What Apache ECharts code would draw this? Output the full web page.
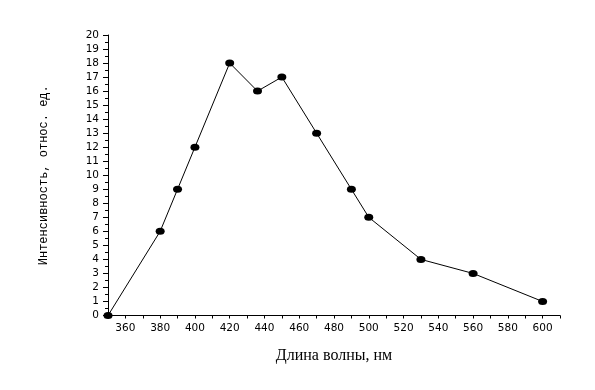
<!DOCTYPE html>
<html><head><meta charset="utf-8">
<script src="https://cdn.jsdelivr.net/npm/echarts@6/dist/echarts.min.js"></script>
<style>html,body{margin:0;padding:0;background:#fff}#c{width:595px;height:390px}</style>
</head><body><div id="c"></div>
<script>
const wavelengths = [350, 380, 390, 400, 420, 436, 450, 470, 490, 500, 530, 560, 600];
const intensity   = [0, 6, 9, 12, 18, 16, 17, 13, 9, 7, 4, 3, 1];
const xTitle = 'Длина волны, нм';
const yTitle = 'Интенсивность, относ. ед.';

const chart = echarts.init(document.getElementById('c'), null, {renderer: 'canvas'});
const labelFont = {color: '#000', fontFamily: 'DejaVu Sans, Verdana, sans-serif', fontSize: 10.5};
chart.setOption({
  animation: false,
  grid: {left: 108, right: 35, top: 35, bottom: 74.5},
  xAxis: {
    type: 'value', min: 350, max: 610, interval: 10,
    axisLine: {show: true, lineStyle: {color: '#000', width: 1}},
    axisTick: {show: true, length: 3, lineStyle: {color: '#000'}},
    splitLine: {show: false},
    axisLabel: Object.assign({}, labelFont, {margin: 7,
      formatter: v => (v % 20 === 0 && v >= 360 && v <= 600) ? String(v) : ''}),
    name: xTitle, nameLocation: 'middle', nameGap: 32,
    nameTextStyle: {color: '#000', fontFamily: 'Liberation Serif, Times New Roman, serif', fontSize: 16}
  },
  yAxis: {
    type: 'value', min: 0, max: 20, interval: 1,
    axisLine: {show: true, lineStyle: {color: '#000', width: 1}},
    axisTick: {show: true, length: 5, lineStyle: {color: '#000'}},
    minorTick: {show: true, splitNumber: 2, length: 3, lineStyle: {color: '#000'}},
    splitLine: {show: false},
    axisLabel: Object.assign({}, labelFont, {margin: 9}),
    name: yTitle, nameLocation: 'middle', nameGap: 58, nameRotate: 90,
    nameTextStyle: {color: '#000', fontFamily: 'Liberation Mono, Courier New, monospace', fontSize: 12}
  },
  series: [{
    type: 'line',
    data: wavelengths.map((x, i) => [x, intensity[i]]),
    symbol: 'circle', symbolSize: [9, 7], showSymbol: true,
    lineStyle: {color: '#000', width: 1},
    itemStyle: {color: '#000'},
    clip: false
  }]
});
</script></body></html>
